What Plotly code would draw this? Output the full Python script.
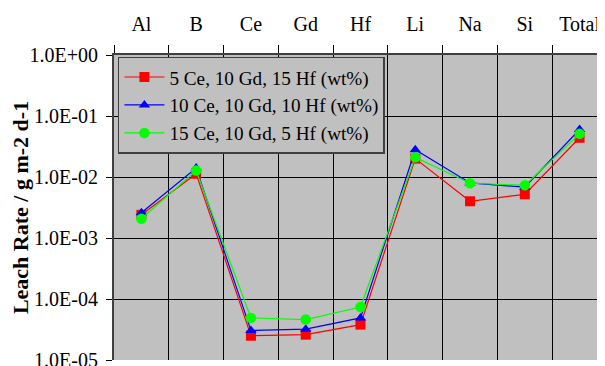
import plotly.graph_objects as go

categories = ["Al", "B", "Ce", "Gd", "Hf", "Li", "Na", "Si", "Total"]
series_names = ["5 Ce, 10 Gd, 15 Hf (wt%)", "10 Ce, 10 Gd, 10 Hf (wt%)", "15 Ce, 10 Gd, 5 Hf (wt%)"]
red_vals = [2.4e-3, 1.13e-2, 2.5e-5, 2.6e-5, 3.8e-5, 2.0e-2, 4.0e-3, 5.2e-3, 4.4e-2]
blue_vals = [2.6e-3, 1.4e-2, 3.05e-5, 3.2e-5, 4.9e-5, 2.8e-2, 8.0e-3, 6.8e-3, 6.0e-2]
green_vals = [2.07e-3, 1.28e-2, 4.9e-5, 4.6e-5, 7.4e-5, 2.1e-2, 7.9e-3, 7.3e-3, 5.1e-2]
y_tickvals = [1e-5, 1e-4, 1e-3, 1e-2, 1e-1, 1e0]
y_ticktext = ["1.0E-05", "1.0E-04", "1.0E-03", "1.0E-02", "1.0E-01", "1.0E+00"]

FONT = "Liberation Serif, Times New Roman, serif"

fig = go.Figure()
styles = [
    ("#FF0000", "square", 10),
    ("#0000FF", "triangle-up", 10),
    ("#00FF00", "circle", 10.5),
]
for name, vals, (col, sym, sz) in zip(series_names, [red_vals, blue_vals, green_vals], styles):
    fig.add_trace(go.Scatter(
        x=categories, y=vals, name=name, mode="lines+markers",
        line=dict(color=col, width=1.2),
        marker=dict(color=col, symbol=sym, size=sz, line=dict(width=0)),
    ))

# the page body adds an 8px offset, so the figure is sized/margined to compensate
fig.update_layout(
    width=597, height=358,
    margin=dict(l=106, r=0, t=47, b=6),
    paper_bgcolor="white",
    plot_bgcolor="#C0C0C0",
    font=dict(family=FONT, size=20, color="black"),
    showlegend=True,
    legend=dict(
        x=0.008, y=0.995, xanchor="left", yanchor="top",
        bgcolor="#C0C0C0", bordercolor="#404040", borderwidth=1.5,
        font=dict(family=FONT, size=19.2, color="black"),
        tracegroupgap=0, itemwidth=40,
    ),
    xaxis=dict(
        type="category", side="top", tickson="boundaries",
        range=[-0.5, 8.464], automargin=False,
        showgrid=True, gridcolor="black", gridwidth=1,
        ticks="outside", ticklen=8, tickcolor="black",
        showline=True, linecolor="#404040", linewidth=2,
        ticklabelstandoff=14,
        tickfont=dict(family=FONT, size=20),
        zeroline=False,
    ),
    yaxis=dict(
        type="log", range=[-5, 0], automargin=False,
        tickvals=y_tickvals, ticktext=y_ticktext,
        showgrid=True, gridcolor="black", gridwidth=1,
        ticks="outside", ticklen=6, tickcolor="black",
        showline=True, linecolor="#404040", linewidth=2,
        ticklabelstandoff=4, ticklabeloverflow="allow",
        tickfont=dict(family=FONT, size=20),
        title=dict(text="<b>Leach Rate / g m-2 d-1</b>", font=dict(family=FONT, size=22), standoff=8),
        zeroline=False,
    ),
)

fig.write_html("out.html")
